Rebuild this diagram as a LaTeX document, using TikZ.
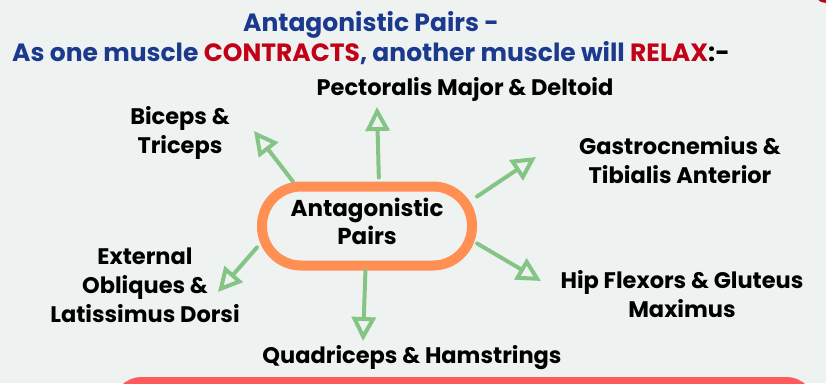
\documentclass[tikz,border=0pt]{standalone}
\usepackage{fontspec}
\setmainfont{Poppins}
\usepackage{xcolor}
\usepackage{tikz}
\usetikzlibrary{arrows.meta, positioning, calc}

\definecolor{paper}{HTML}{EEF3F1}
\definecolor{titleblue}{HTML}{1B3A8E}
\definecolor{titlered}{HTML}{C20018}
\definecolor{huborange}{HTML}{FF8F52}
\definecolor{armgreen}{HTML}{86C486}
\definecolor{panelred}{HTML}{FF5A5C}

\begin{document}
\begin{tikzpicture}[
    x=1pt, y=-1pt,
    muscle/.style={align=center, inner sep=0pt, font=\bfseries\fontsize{22.5}{29}\selectfont},
    hub/.style={draw=huborange, line width=10pt, rounded corners=39pt, minimum width=210pt, minimum height=79pt, text depth=10pt, align=center, font=\bfseries\fontsize{23}{28}\selectfont},
    arm/.style={draw=armgreen, line width=4pt, line cap=round, line join=round, -{Triangle[open, length=24pt, width=24pt]}}
]

% background and red panels
\begin{scope}
\clip (0,0) rectangle (826,383);
\fill[paper] (0,0) rectangle (826,383);
\fill[panelred, rounded corners=30pt] (112,377) rectangle (816,460);
\fill[titlered, rounded corners=12pt] (814,-50) rectangle (900,3);
\end{scope}
\useasboundingbox (0,0) rectangle (826,383);

% heading
\node[align=center, text=titleblue, font=\bfseries\fontsize{25}{30}\selectfont] (title) at (371,38)
  {Antagonistic Pairs -\\As one muscle \textcolor{titlered}{CONTRACTS}, another muscle will \textcolor{titlered}{RELAX}\textcolor{black}{:-}};

% centre
\node[hub] (hub) at (367,226) {Antagonistic\\Pairs};

% muscle pairs
\node[muscle] (pect) at (465,89) {Pectoralis Major \& Deltoid};
\node[muscle] (biceps) at (180,133) {Biceps \&\\Triceps};
\node[muscle] (gastro) at (680,160) {Gastrocnemius \&\\Tibialis Anterior};
\node[muscle] (oblique) at (145,285) {External\\Obliques \&\\Latissimus Dorsi};
\node[muscle] (hip) at (682,294) {Hip Flexors \& Gluteus\\Maximus};
\node[muscle] (quad) at (412,358) {Quadriceps \& Hamstrings};

% arrow ends
\coordinate (pectTip) at (377,107);
\coordinate (bicepsTip) at (254,131);
\coordinate (gastroTip) at (536,157);
\coordinate (hipTip) at (541,281);
\coordinate (quadTip) at (363,341);
\coordinate (obliqueTip) at (218,292);

\draw[arm, shorten <=4pt] (hub.75) -- (pectTip);
\draw[arm] (hub.149) -- (bicepsTip);
\draw[arm] (hub.15) -- (gastroTip);
\draw[arm] (hub.-9) -- (hipTip);
\draw[arm] (hub.-92) -- (quadTip);
\draw[arm] (hub.191) -- (obliqueTip);

\end{tikzpicture}
\end{document}
